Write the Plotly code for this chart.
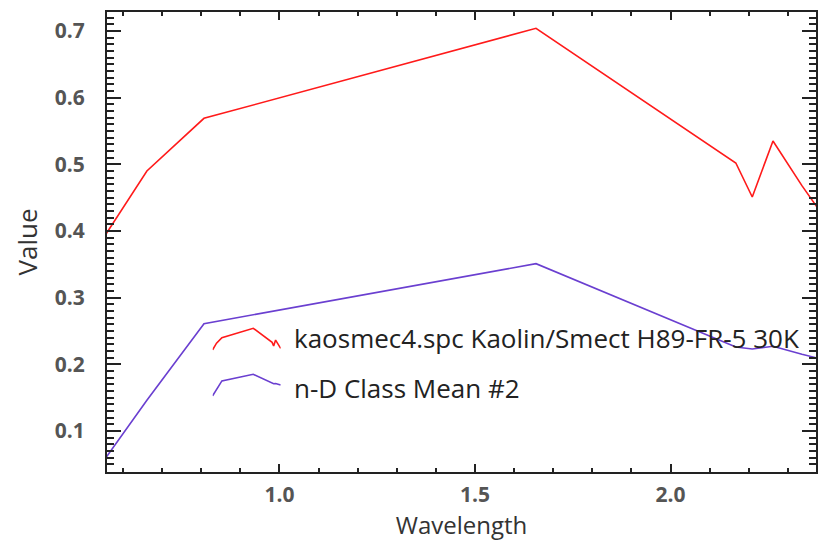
import plotly.graph_objects as go

wavelength = [0.556, 0.661, 0.807, 1.656, 2.167, 2.209, 2.262, 2.336, 2.400]
kaolin_smect = [0.395, 0.490, 0.569, 0.704, 0.502, 0.451, 0.535, 0.468, 0.415]
class_mean2 = [0.060, 0.146, 0.261, 0.351, 0.226, 0.223, 0.227, 0.215, 0.206]
series_names = ["kaosmec4.spc Kaolin/Smect H89-FR-5 30K", "n-D Class Mean #2"]
colors = ["#ff1a1a", "#6a3fd0"]

W, H = 819, 542
ML, MR, MT, MB = 107, 1, 12, 70

fig = go.Figure()
for vals, c in [(kaolin_smect, colors[0]), (class_mean2, colors[1])]:
    fig.add_trace(go.Scatter(x=wavelength, y=vals, mode="lines",
                             line=dict(color=c, width=1.6), showlegend=False))

# legend icons: mini spectra in inset axes
fig.add_trace(go.Scatter(x=wavelength, y=kaolin_smect, mode="lines", xaxis="x2", yaxis="y2",
                         line=dict(color=colors[0], width=1.6), showlegend=False))
fig.add_trace(go.Scatter(x=wavelength, y=class_mean2, mode="lines", xaxis="x3", yaxis="y3",
                         line=dict(color=colors[1], width=1.6), showlegend=False))

font_fam = "Open Sans"
tick_font = dict(family=font_fam, size=21, color="#555555", weight="bold")

axis_common = dict(showline=True, linecolor="#222222", linewidth=2, mirror="ticks",
                   ticks="inside", tickcolor="#222222", tickwidth=2,
                   showgrid=False, zeroline=False, tickfont=tick_font)

fig.update_layout(
    width=W, height=H,
    margin=dict(l=ML, r=MR, t=MT, b=MB, pad=0),
    paper_bgcolor="white", plot_bgcolor="white",
    xaxis=dict(range=[0.559, 2.372], tickvals=[1.0, 1.5, 2.0], ticktext=["1.0", "1.5", "2.0"],
               ticklen=8, minor=dict(dtick=0.1, tick0=0, ticklen=4, ticks="inside",
                                     tickcolor="#222222", tickwidth=2),
               title=dict(text="Wavelength", font=dict(family=font_fam, size=24, color="#333333"), standoff=4),
               ticklabelstandoff=3,
               **axis_common),
    yaxis=dict(range=[0.0385, 0.7285], tickvals=[0.1, 0.2, 0.3, 0.4, 0.5, 0.6, 0.7],
               ticktext=["0.1", "0.2", "0.3", "0.4", "0.5", "0.6", "0.7"],
               ticklen=14, minor=dict(dtick=0.01, tick0=0, ticklen=7, ticks="inside",
                                      tickcolor="#222222", tickwidth=2),
               title=dict(text="Value", font=dict(family=font_fam, size=26, color="#333333"), standoff=10),
               ticklabelstandoff=16,
               **axis_common),
    xaxis2=dict(domain=[0.149, 0.245], anchor="y2", visible=False, autorange=True, fixedrange=True),
    yaxis2=dict(domain=[0.263, 0.315], anchor="x2", visible=False, autorange=True, fixedrange=True),
    xaxis3=dict(domain=[0.149, 0.245], anchor="y3", visible=False, autorange=True, fixedrange=True),
    yaxis3=dict(domain=[0.163, 0.215], anchor="x3", visible=False, autorange=True, fixedrange=True),
    annotations=[
        dict(text=series_names[0], x=0.2616, y=0.291, xref="paper", yref="paper",
             xanchor="left", yanchor="middle", showarrow=False,
             font=dict(family=font_fam, size=26, color="#222222")),
        dict(text=series_names[1], x=0.2616, y=0.183, xref="paper", yref="paper",
             xanchor="left", yanchor="middle", showarrow=False,
             font=dict(family=font_fam, size=26, color="#222222")),
    ],
)

fig.write_html("out.html")
